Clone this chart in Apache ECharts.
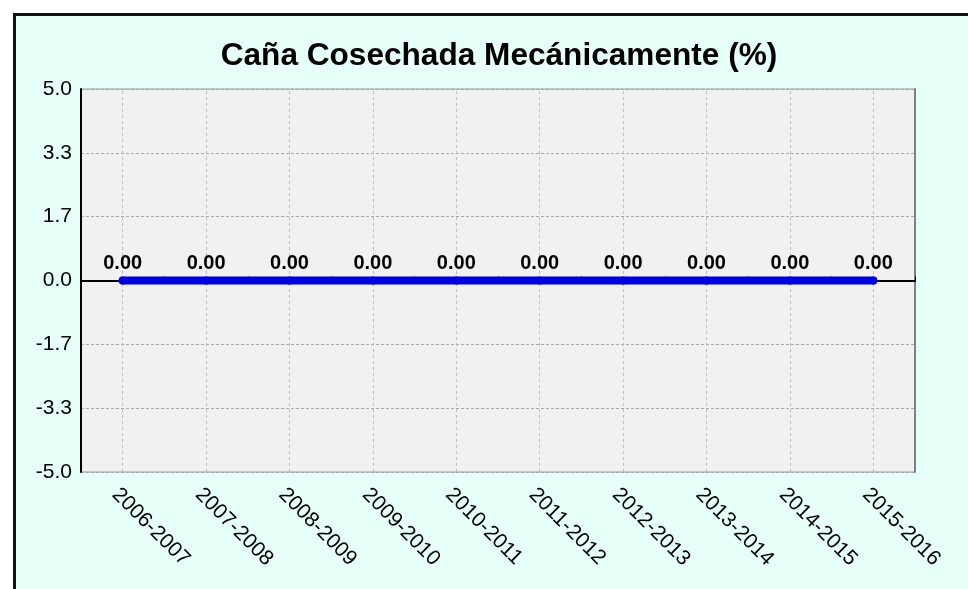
<!DOCTYPE html>
<html>
<head>
<meta charset="utf-8">
<script src="https://cdn.jsdelivr.net/npm/echarts@6/dist/echarts.min.js"></script>
<style>
  html, body { margin: 0; padding: 0; background: #fff; }
  #frame {
    position: absolute; left: 13px; top: 13px; width: 1000px; height: 620px;
    border-left: 3px solid #111; border-top: 3px solid #111;
    background: #e6fff8;
  }
  #chart { position: absolute; left: 0; top: 0; width: 968px; height: 589px; }
</style>
</head>
<body>
<div id="frame"></div>
<div id="chart"></div>
<script>
  // datos
  var titulo = 'Caña Cosechada Mecánicamente (%)'
  var zafras = ['2006-2007', '2007-2008', '2008-2009', '2009-2010', '2010-2011',
    '2011-2012', '2012-2013', '2013-2014', '2014-2015', '2015-2016']
  var valores = [0, 0, 0, 0, 0, 0, 0, 0, 0, 0]
  var etiquetasY = ['-5.0', '-3.3', '-1.7', '0.0', '1.7', '3.3', '5.0']
  var yMin = -5
  var yMax = 5

  var paso = (yMax - yMin) / (etiquetasY.length - 1)

  // lineas verticales punteadas en el centro de cada categoria
  var lineasX = zafras.map(function (z) {
    return {
      xAxis: z,
      lineStyle: { color: '#bdbdbd', type: [3, 3], width: 1 }
    }
  })

  var option = {
    animation: false,
    title: {
      text: titulo,
      left: 494,
      textAlign: 'center',
      top: 35,
      textStyle: {
        fontFamily: 'Liberation Sans, Arial',
        fontSize: 31.6,
        fontWeight: 'bold',
        color: '#000'
      }
    },
    grid: {
      left: 81,
      right: 53,
      top: 89,
      bottom: 117,
      show: true,
      backgroundColor: '#f1f1f1',
      borderColor: '#999',
      borderWidth: 1
    },
    xAxis: {
      type: 'category',
      data: zafras,
      boundaryGap: true,
      axisLine: { lineStyle: { color: '#000', width: 2 } },
      axisTick: { show: true, inside: true, length: 4, lineStyle: { color: '#000' } },
      splitLine: { show: false },
      axisLabel: {
        rotate: -45,
        interval: 0,
        margin: 12,
        verticalAlign: 'top',
        fontFamily: 'Liberation Sans, Arial',
        fontSize: 21,
        color: '#000'
      }
    },
    yAxis: [
      {
        type: 'value',
        min: yMin,
        max: yMax,
        interval: paso,
        axisLine: { show: true, lineStyle: { color: '#000', width: 2 } },
        axisTick: { show: false },
        splitLine: { show: true, lineStyle: { color: '#a8a8a8', type: [3, 2], width: 1 } },
        axisLabel: {
          margin: 9,
          fontFamily: 'Liberation Sans, Arial',
          fontSize: 21,
          color: '#000',
          formatter: function (v) {
            var i = Math.round((v - yMin) / paso)
            return etiquetasY[i]
          }
        }
      },
      {
        type: 'value',
        position: 'right',
        min: yMin,
        max: yMax,
        axisLine: { show: true, lineStyle: { color: '#808080', width: 2 } },
        axisTick: { show: false },
        axisLabel: { show: false },
        splitLine: { show: false }
      }
    ],
    series: [
      {
        name: titulo,
        type: 'line',
        data: valores,
        symbol: 'circle',
        symbolSize: 8,
        showSymbol: true,
        itemStyle: { color: '#0000dd' },
        lineStyle: { color: '#0000dd', width: 8, cap: 'round' },
        z: 5,
        label: {
          show: true,
          position: 'top',
          distance: 3,
          fontFamily: 'Liberation Sans, Arial',
          fontSize: 20,
          fontWeight: 'bold',
          color: '#000',
          formatter: function (p) { return p.value.toFixed(2) }
        },
        markLine: {
          silent: true,
          symbol: 'none',
          label: { show: false },
          z: 1,
          data: [{ yAxis: 0, lineStyle: { color: '#000', type: 'solid', width: 1.5 } }].concat(lineasX)
        }
      }
    ]
  }

  var chart = echarts.init(document.getElementById('chart'))
  chart.setOption(option)
</script>
</body>
</html>
